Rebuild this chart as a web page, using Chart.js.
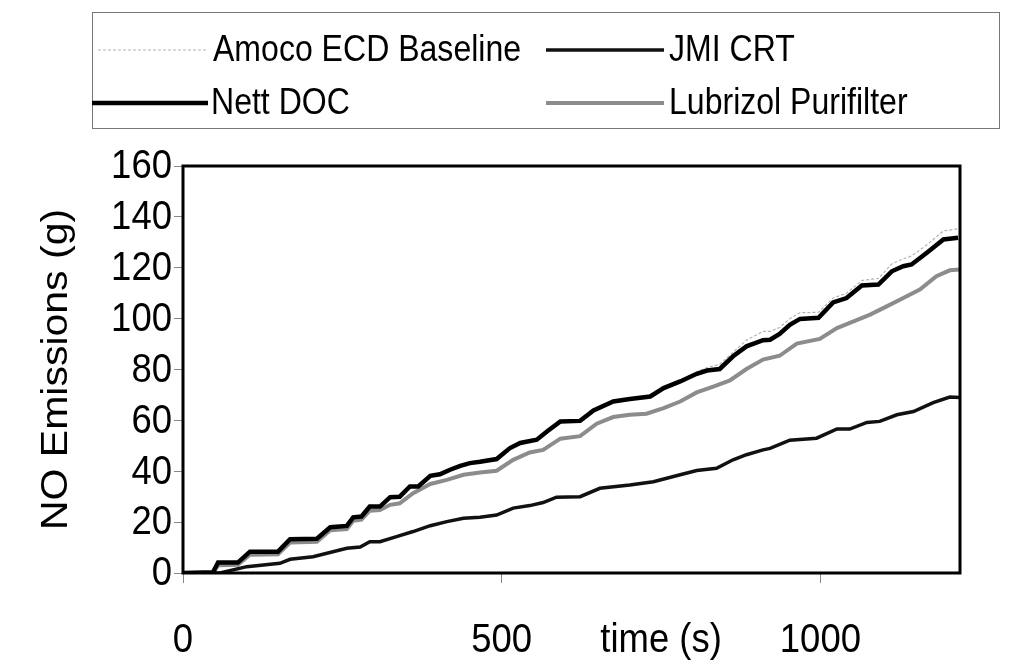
<!DOCTYPE html>
<html><head><meta charset="utf-8">
<script src="https://cdn.jsdelivr.net/npm/chart.js@4.4.0/dist/chart.umd.min.js"></script>
<style>html,body{margin:0;padding:0;background:#fff;}canvas{display:block;}</style>
</head><body>
<canvas id="c" width="1009" height="669"></canvas>
<script>
const seriesNames = ["Amoco ECD Baseline", "JMI CRT", "Nett DOC", "Lubrizol Purifilter"];
const xTickValues = [0, 500, 1000];
const xTickLabels = ["0", "500", "1000"];
const yTickStep = 20;
const xTitle = "time (s)";
const yTitle = "NO Emissions (g)";

const nettT = [0,47,55,86,105,149,168,210,231,257,267,280,293,309,325,340,356,369,388,403,419,435,450,466,492,513,529,555,571,592,623,644,675,701,733,754,780,806,822,842,863,884,910,921,936,952,968,997,1020,1041,1065,1091,1112,1130,1143,1167,1193,1216];
const nettV = [0,0.3,4.1,4.1,8.4,8.4,13.3,13.5,18,18.5,21.9,22.2,26.1,26.1,29.8,30,34,34,38.2,38.8,40.6,42.1,43.2,43.7,44.8,49.1,51.1,52.4,55.6,59.6,59.8,63.9,67.4,68.4,69.4,72.7,75.3,78.3,79.6,80.2,85.2,89.1,91.5,91.7,94,97.6,99.9,100.3,106.4,108.1,113,113.4,118.6,120.6,121.3,125.9,131.1,131.8];

const amocoT = nettT;
const amocoV = [0,0.3,4.4,4.4,8.7,8.7,13.6,13.8,18.3,18.8,22.2,22.5,26.4,26.4,30.1,30.3,34.3,34.3,38.5,39.1,40.9,42.4,43.5,44,45.1,49.4,51.4,52.7,55.9,59.9,60.1,64.2,67.7,68.7,69.7,73,75.8,79,80.8,82,86.8,91.5,95,95,96.5,100,102.3,102.5,108.1,110,115,115.8,121.5,123.5,124.6,129,134.5,135.3];

const lubT = [0,47,55,86,105,149,168,210,231,257,267,280,293,309,325,340,361,388,414,440,466,492,518,544,565,592,623,649,675,701,727,754,780,806,832,858,884,910,936,963,999,1026,1052,1078,1104,1130,1156,1182,1203,1219];
const lubV = [0,0,3,3.2,7.2,7.4,12,12.3,16.8,17.3,20.5,21,24.5,24.8,26.8,27.4,31.4,35,36.6,38.6,39.5,40.2,44.5,47.4,48.4,52.8,53.8,58.7,61.3,62.2,62.6,64.8,67.4,71,73.3,75.7,80.2,83.9,85.4,90.2,92,96.3,98.9,101.6,104.8,108.1,111.4,116.7,119,119.3];

const jmiT = [0,58,100,152,168,204,257,278,293,309,335,361,388,414,440,466,492,518,544,565,586,623,654,701,738,780,806,837,863,884,910,921,952,994,1026,1046,1073,1093,1120,1146,1177,1203,1219];
const jmiV = [0,0,2.5,3.8,5.4,6.4,9.7,10.2,12.3,12.3,14.3,16.3,18.6,20.2,21.5,21.9,22.8,25.5,26.5,27.7,29.8,30,33.3,34.6,35.9,38.6,40.3,41.2,44.5,46.5,48.4,49,52.2,53,56.6,56.6,59.2,59.6,62.2,63.5,67,69.2,69];

const pts = (t, v) => t.map((x, i) => ({x: x, y: v[i]}));
const FONT = "'Liberation Sans', Arial, sans-serif";
const SQ = 0.89; // horizontal squeeze of the original scan's lettering

const styles = [
  {color: '#b4b4b4', width: 1.2, dash: [3, 2], order: 3},
  {color: '#111111', width: 3.5, dash: [], order: 1},
  {color: '#000000', width: 4.5, dash: [], order: 0},
  {color: '#8c8c8c', width: 4, dash: [], order: 2}
];
const dataSets = [pts(amocoT, amocoV), pts(jmiT, jmiV), pts(nettT, nettV), pts(lubT, lubV)];

function squeezedText(ctx, text, x, y, align) {
  ctx.save();
  ctx.translate(x, y);
  ctx.scale(SQ, 1);
  ctx.textAlign = align;
  ctx.fillText(text, 0, 0);
  ctx.restore();
}

const framePlugin = {
  id: 'frame',
  afterDatasetsDraw(chart) {
    const a = chart.chartArea, ctx = chart.ctx;
    ctx.save();
    ctx.strokeStyle = '#000'; ctx.lineWidth = 3;
    ctx.strokeRect(a.left, a.top, a.right - a.left, a.bottom - a.top);
    ctx.restore();
  },
  afterDraw(chart) {
    const ctx = chart.ctx, xs = chart.scales.x, ys = chart.scales.y, a = chart.chartArea;
    ctx.save();
    ctx.fillStyle = '#000';
    ctx.textBaseline = 'middle';
    ctx.font = '41px ' + FONT;
    // y tick labels
    ys.ticks.forEach(t => squeezedText(ctx, String(t.value), 172, ys.getPixelForValue(t.value) + 1, 'right'));
    // x tick labels
    xTickValues.forEach((v, i) => squeezedText(ctx, xTickLabels[i], xs.getPixelForValue(v), 641, 'center'));
    squeezedText(ctx, xTitle, xs.getPixelForValue(750), 641, 'center');
    // y title
    ctx.save();
    ctx.translate(57, (a.top + a.bottom) / 2);
    ctx.scale(SQ, 1);
    ctx.rotate(-Math.PI / 2);
    ctx.font = '41px ' + FONT;
    ctx.textAlign = 'center';
    ctx.fillText(yTitle, 0, 0);
    ctx.restore();
    ctx.restore();
    // legend
    ctx.save();
    ctx.strokeStyle = '#777'; ctx.lineWidth = 1;
    ctx.strokeRect(92.5, 12.5, 907, 116);
    const items = [
      {i: 0, x1: 98, x2: 206, tx: 213, y: 50},
      {i: 1, x1: 546, x2: 664, tx: 669, y: 50},
      {i: 2, x1: 92, x2: 208, tx: 211, y: 103},
      {i: 3, x1: 546, x2: 664, tx: 669, y: 103}
    ];
    ctx.font = '36px ' + FONT;
    ctx.textBaseline = 'middle';
    items.forEach(it => {
      const s = styles[it.i];
      ctx.beginPath();
      ctx.strokeStyle = s.color; ctx.lineWidth = s.width; ctx.setLineDash(s.dash);
      ctx.moveTo(it.x1, it.y); ctx.lineTo(it.x2, it.y); ctx.stroke();
      ctx.setLineDash([]);
      ctx.fillStyle = '#000';
      squeezedText(ctx, seriesNames[it.i], it.tx, it.y + 1, 'left');
    });
    ctx.restore();
  }
};

new Chart(document.getElementById('c'), {
  type: 'line',
  data: {
    datasets: dataSets.map((d, i) => ({
      label: seriesNames[i],
      data: d,
      borderColor: styles[i].color,
      borderWidth: styles[i].width,
      borderDash: styles[i].dash,
      order: styles[i].order,
      pointRadius: 0,
      tension: 0,
      fill: false
    }))
  },
  options: {
    responsive: false,
    animation: false,
    devicePixelRatio: 1,
    layout: {padding: {left: 0, right: 49, top: 166, bottom: 0}},
    plugins: {legend: {display: false}, tooltip: {enabled: false}},
    scales: {
      x: {
        type: 'linear', min: 0, max: 1219,
        afterBuildTicks: s => { s.ticks = xTickValues.map(v => ({value: v})); },
        afterFit: s => { s.height = 96; },
        grid: {drawOnChartArea: false, drawTicks: true, tickLength: 10, color: '#888', lineWidth: 1},
        border: {display: false},
        ticks: {display: false, autoSkip: false}
      },
      y: {
        min: 0, max: 160,
        afterFit: s => { s.width = 183; },
        grid: {drawOnChartArea: false, drawTicks: true, tickLength: 9, color: '#888', lineWidth: 1},
        border: {display: false},
        ticks: {display: false, stepSize: yTickStep}
      }
    }
  },
  plugins: [framePlugin]
});
</script>
</body></html>
